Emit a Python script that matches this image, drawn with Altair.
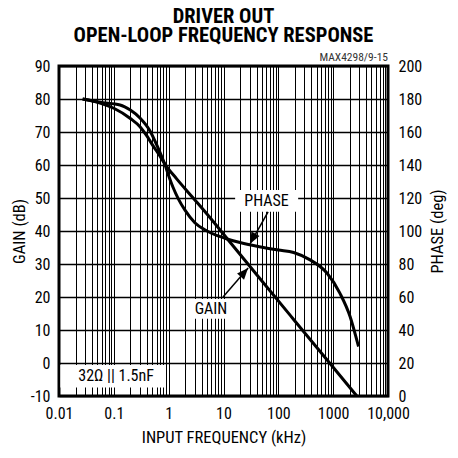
import altair as alt
import pandas as pd

# ---------------- data ----------------
gain_freq_khz = [0.027, 0.056, 0.1, 0.2, 0.3, 0.4, 0.52, 0.7, 0.86, 1.4, 2.8, 5.7, 11.5, 46, 190, 770, 2700]
gain_db = [80, 78.8, 77.2, 74.1, 71.6, 68.8, 65.8, 62.6, 60.2, 55.8, 50.0, 44.0, 37.8, 25.6, 13.2, 1.0, -10]

phase_freq_khz = [0.027, 0.056, 0.13, 0.2, 0.3, 0.46, 0.6, 0.75, 0.86, 1.0, 1.2, 1.5, 2.0, 3.0, 5.0,
                  8.0, 12, 20, 45, 100, 190, 380, 770, 1340, 2040, 2500, 2900]
phase_deg = [180, 178, 176.4, 173.3, 168.5, 160.5, 152.5, 145, 140, 133.5, 126.5, 119.5, 112.5, 105, 100,
             97, 95, 93, 90.5, 88.5, 87, 82.5, 74.5, 62, 48, 38, 30]

x_tick_values = [0.01, 0.1, 1, 10, 100, 1000, 10000]
x_tick_labels = ["0.01", "0.1", "1", "10", "100", "1000", "10,000"]
gain_ticks = [-10, 0, 10, 20, 30, 40, 50, 60, 70, 80, 90]
phase_ticks = [0, 20, 40, 60, 80, 100, 120, 140, 160, 180, 200]

title_lines = ["DRIVER OUT", "OPEN-LOOP FREQUENCY RESPONSE"]
code_label = "MAX4298/9-15"
load_label = "32Ω || 1.5nF"
phase_label = "PHASE"
gain_label = "GAIN"

# ---------------- annotation placement (data units) ----------------
label_x = [61, 5.9, 0.11]
label_y = [49.0, 16.4, -3.9]
label_text = [phase_label, gain_label, load_label]
box_x = [16.3, 2.75, 0.0106]
box_x2 = [230, 12.8, 0.83]
box_y = [45.8, 13.4, -7.4]
box_y2 = [52.4, 19.4, -0.6]
arrow_x = [65.0, 9.8]
arrow_y = [45.8, 20.0]
arrow_x2 = [30.5, 28.1]
arrow_y2 = [36.1, 28.8]
arrow_angle = [208, 41]

FONT = "Liberation Sans Narrow, Roboto Condensed, Roboto, sans-serif"
W, H = 329, 330

grid_x = sorted({round(m * 10.0 ** k, 6) for k in range(-2, 4) for m in range(1, 10)} | {10000})
label_expr = " : ".join(f"datum.value == {v} ? '{l}'" for v, l in zip(x_tick_values, x_tick_labels)) + " : ''"

xs = alt.Scale(type="log", domain=[0.01, 10000], nice=False)
ys = alt.Scale(domain=[-10, 90], nice=False, zero=False)
ps = alt.Scale(domain=[0, 200], nice=False, zero=False)

x_axis = alt.Axis(values=grid_x, labelExpr=label_expr, title="INPUT FREQUENCY (kHz)",
                  grid=True, gridColor="black", gridWidth=1, gridOpacity=1,
                  ticks=False, tickSize=0, domain=False, labelFlush=False, labelOverlap=False,
                  labelPadding=9, labelFontSize=16, labelColor="black",
                  titleFontSize=16.5, titleFontWeight="normal", titleColor="black",
                  titleY=41, titleBaseline="middle")
gain_axis = alt.Axis(values=gain_ticks, labelExpr="'' + datum.value", title="GAIN (dB)",
                     grid=True, gridColor="black", gridWidth=1.3, gridOpacity=1,
                     ticks=False, tickSize=0, domain=False, labelFlush=False, labelOverlap=False,
                     labelPadding=9, labelFontSize=16, labelColor="black",
                     titleFontSize=16.5, titleFontWeight="normal", titleColor="black",
                     titleX=-40, titleBaseline="middle")
phase_axis = alt.Axis(values=phase_ticks, labelExpr="'' + datum.value", title="PHASE (deg)", orient="right",
                      grid=False, ticks=False, tickSize=0, domain=False, labelFlush=False, labelOverlap=False,
                      labelPadding=10, labelFontSize=16, labelColor="black",
                      titleFontSize=16.5, titleFontWeight="normal", titleColor="black",
                      titleAngle=270, titleX=49, titleBaseline="middle")

gain_df = pd.DataFrame({"f": gain_freq_khz, "v": gain_db})
phase_df = pd.DataFrame({"f": phase_freq_khz, "v": phase_deg})


def gx(field):
    return alt.X(field, scale=xs, axis=x_axis)


def gy(field):
    return alt.Y(field, scale=ys, axis=gain_axis)


gain_line = alt.Chart(gain_df).mark_line(color="black", strokeWidth=3, interpolate="monotone").encode(
    x=gx("f:Q"), y=gy("v:Q"))

boxes = alt.Chart(pd.DataFrame({"x": box_x, "x2": box_x2, "y": box_y, "y2": box_y2})).mark_rect(
    fill="white", strokeWidth=0).encode(x=gx("x:Q"), x2="x2:Q", y=gy("y:Q"), y2="y2:Q")

labels = alt.Chart(pd.DataFrame({"x": label_x, "y": label_y, "t": label_text})).mark_text(
    fontSize=16, color="black", align="center", baseline="middle").encode(
    x=gx("x:Q"), y=gy("y:Q"), text="t:N")

arrow_df = pd.DataFrame({"x": arrow_x, "y": arrow_y, "x2": arrow_x2, "y2": arrow_y2, "a": arrow_angle})
shafts = alt.Chart(arrow_df).mark_rule(color="black", strokeWidth=1.5).encode(
    x=gx("x:Q"), x2="x2:Q", y=gy("y:Q"), y2="y2:Q")
heads = alt.Chart(arrow_df).mark_point(shape="M0,0 L0.4,1 L-0.4,1 Z", filled=True, size=529,
                                        color="black", opacity=1, strokeWidth=0).encode(
    x=gx("x2:Q"), y=gy("y2:Q"), angle=alt.Angle("a:Q", scale=None))

code_text = alt.Chart(pd.DataFrame({"t": [code_label]})).mark_text(
    fontSize=11.5, color="#333333", align="right", baseline="bottom").encode(
    x=alt.value(W), y=alt.value(-3), text="t:N")

phase_line = alt.Chart(phase_df).mark_line(color="black", strokeWidth=3, interpolate="monotone").encode(
    x=gx("f:Q"), y=alt.Y("v:Q", scale=ps, axis=phase_axis))

inner = alt.layer(gain_line, boxes, labels, shafts, heads, code_text)

chart = alt.layer(inner, phase_line).resolve_scale(y="independent").properties(
    width=W, height=H,
    title=alt.Title(title_lines, fontSize=20.5, fontWeight="bold", lineHeight=19, anchor="middle",
                    color="black", offset=6, font=FONT),
    padding={"left": 51, "top": 58, "right": 62, "bottom": 56},
    autosize="none",
).configure(font=FONT).configure_axis(labelOverlap=False).configure_view(stroke="black", strokeWidth=3)

chart.save("out.html", embed_options={"renderer": "svg", "actions": False})
